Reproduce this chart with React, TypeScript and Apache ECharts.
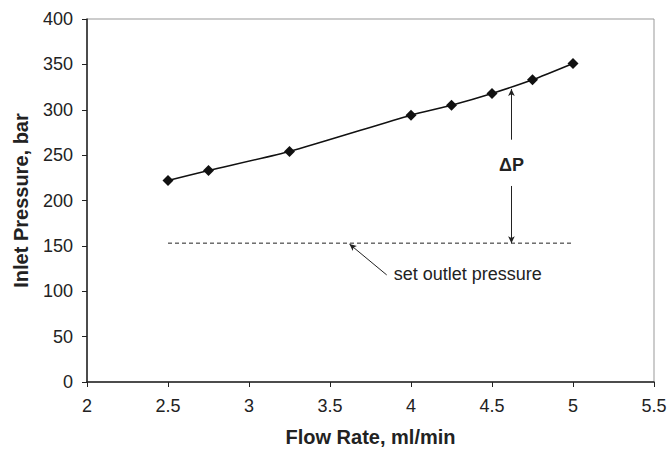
import React, { useEffect, useRef } from "react";
import * as echarts from "echarts";

const flowRate = [2.5, 2.75, 3.25, 4.0, 4.25, 4.5, 4.75, 5.0];
const inletPressure = [222, 233, 254, 294, 305, 318, 333, 351];
const outletX = [2.5, 5.0];
const outletPressure = 153;
const deltaX = 4.62;
const deltaTop = 323;
const deltaLabelY = 239;
const deltaUpperStart = 267;
const deltaLowerStart = 216;
const noteArrowFrom = [3.85, 118];
const noteArrowTo = [3.62, 152];
const noteTextPos = [3.89, 119];
const noteText = "set outlet pressure";

export default function App() {
  const ref = useRef<HTMLDivElement>(null);
  useEffect(() => {
    if (!ref.current) return;
    const chart = echarts.init(ref.current, null, { renderer: "svg" });
    const font = "Liberation Sans, Arial, sans-serif";
    const arrowLine = {
      lineStyle: { color: "#222", width: 1, type: "solid" as const },
    };
    chart.setOption({
      animation: false,
      textStyle: { fontFamily: font },
      grid: {
        left: 87,
        right: 15,
        top: 19,
        bottom: 67,
        show: true,
        borderColor: "#999",
        borderWidth: 1,
        containLabel: false,
        outerBoundsMode: "none",
      },
      xAxis: {
        type: "value",
        min: 2,
        max: 5.5,
        interval: 0.5,
        name: "Flow Rate, ml/min",
        nameLocation: "middle",
        nameGap: 45,
        nameTextStyle: { fontFamily: font, fontSize: 20, fontWeight: "bold", color: "#222" },
        axisLine: { show: true, lineStyle: { color: "#222", width: 1.5 } },
        axisTick: { show: true, length: 5, lineStyle: { color: "#222" } },
        axisLabel: { fontFamily: font, fontSize: 18, color: "#222", margin: 15 },
        splitLine: { show: false },
      },
      yAxis: {
        type: "value",
        min: 0,
        max: 400,
        interval: 50,
        name: "Inlet Pressure, bar",
        nameLocation: "middle",
        nameGap: 56,
        nameTextStyle: { fontFamily: font, fontSize: 20, fontWeight: "bold", color: "#222" },
        axisLine: { show: true, lineStyle: { color: "#222", width: 1.5 } },
        axisTick: { show: true, length: 5, lineStyle: { color: "#222" } },
        axisLabel: { fontFamily: font, fontSize: 18, color: "#222", margin: 14 },
        splitLine: { show: false },
      },
      series: [
        {
          type: "line",
          data: flowRate.map((x, i) => [x, inletPressure[i]]),
          smooth: 0.2,
          symbol: "diamond",
          symbolSize: 11,
          itemStyle: { color: "#111" },
          lineStyle: { color: "#111", width: 1.5 },
          z: 5,
        },
        {
          type: "line",
          data: outletX.map((x) => [x, outletPressure]),
          symbol: "none",
          lineStyle: { color: "#222", width: 1, type: [4, 3] },
          markLine: {
            silent: true,
            symbol: ["none", "arrow"],
            symbolSize: [5, 7],
            label: { show: false },
            ...arrowLine,
            data: [
              [{ coord: [deltaX, deltaUpperStart] }, { coord: [deltaX, deltaTop] }],
              [{ coord: [deltaX, deltaLowerStart] }, { coord: [deltaX, outletPressure] }],
              [{ coord: noteArrowFrom }, { coord: noteArrowTo }],
            ],
          },
          markPoint: {
            silent: true,
            symbol: "circle",
            symbolSize: 1,
            itemStyle: { color: "rgba(0,0,0,0)" },
            data: [
              {
                coord: [deltaX, deltaLabelY],
                label: {
                  show: true,
                  formatter: "ΔP",
                  position: "inside",
                  fontFamily: font,
                  fontSize: 18,
                  fontWeight: "bold",
                  color: "#222",
                },
              },
              {
                coord: noteTextPos,
                label: {
                  show: true,
                  formatter: noteText,
                  position: "right",
                  distance: 0,
                  fontFamily: font,
                  fontSize: 18,
                  color: "#222",
                },
              },
            ],
          },
        },
      ],
    });
    return () => chart.dispose();
  }, []);
  return <div ref={ref} style={{ width: 669, height: 449, position: "absolute", left: 0, top: 0 }} />;
}
